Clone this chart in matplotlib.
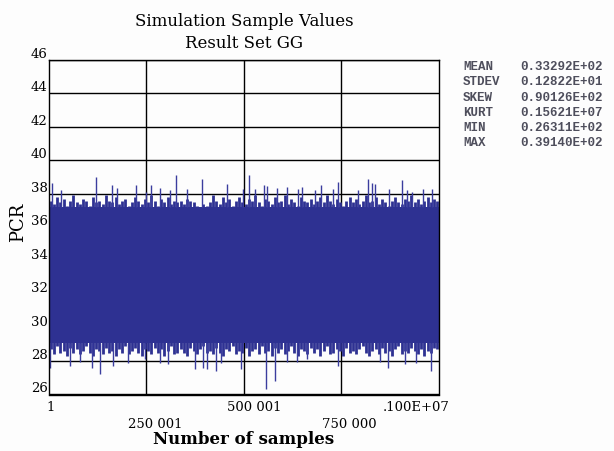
import numpy as np
import matplotlib
matplotlib.use("Agg")
import matplotlib.pyplot as plt
from matplotlib.transforms import ScaledTranslation

BAND = "#2e3192"
SPIKE = "#3b3d9e"
STAT = "#4e4e5c"
SERIF = "DejaVu Serif"

# band core (solid) limits, PCR
CORE_TOP = 37.2
CORE_BOT = 29.1

# tooth tops / bottoms read column by column across the run (120 columns)
hi_vals = [
    37.6, 37.4, 37.8, 37.5, 37.7, 37.3, 37.6, 37.9, 37.5, 37.4,
    37.7, 37.6, 37.3, 37.8, 37.5, 37.6, 37.4, 37.9, 37.6, 37.5,
    37.8, 37.4, 37.6, 37.7, 37.3, 37.5, 37.8, 37.6, 37.4, 37.7,
    37.5, 37.9, 37.6, 37.3, 37.7, 37.5, 37.8, 37.4, 37.6, 37.5,
    37.6, 37.4, 37.7, 37.6, 37.5, 37.3, 37.2, 37.4, 37.3, 37.5,
    37.9, 37.6, 37.4, 37.8, 37.5, 37.7, 37.3, 37.6, 37.8, 37.5,
    37.4, 37.7, 37.6, 37.9, 37.5, 37.3, 37.7, 37.6, 37.4, 37.8,
    37.5, 37.6, 37.9, 37.4, 37.7, 37.5, 37.3, 37.8, 37.6, 37.5,
    37.7, 37.4, 37.6, 37.8, 37.5, 37.9, 37.6, 37.4, 37.7, 37.5,
    37.3, 37.6, 37.8, 37.5, 37.7, 37.4, 37.6, 37.9, 37.5, 37.6,
    37.8, 37.4, 37.7, 37.5, 37.3, 37.6, 37.8, 37.5, 37.4, 37.7,
    37.6, 37.9, 37.5, 37.7, 37.4, 37.6, 37.8, 37.5, 37.7, 37.6,
]
lo_vals = [
    28.7, 28.4, 28.9, 28.5, 28.6, 28.3, 28.8, 28.5, 28.7, 28.4,
    28.6, 28.9, 28.5, 28.3, 28.7, 28.6, 28.4, 28.8, 28.5, 28.6,
    28.3, 28.7, 28.5, 28.9, 28.4, 28.6, 28.8, 28.5, 28.3, 28.7,
    28.6, 28.4, 28.8, 28.5, 28.7, 28.3, 28.6, 28.9, 28.4, 28.5,
    28.7, 28.5, 28.3, 28.8, 28.6, 28.4, 28.7, 28.9, 28.5, 28.6,
    28.4, 28.8, 28.5, 28.3, 28.7, 28.6, 28.9, 28.4, 28.6, 28.5,
    28.8, 28.3, 28.6, 28.7, 28.4, 28.9, 28.5, 28.6, 28.3, 28.8,
    28.5, 28.7, 28.4, 28.6, 28.9, 28.5, 28.3, 28.7, 28.6, 28.4,
    28.8, 28.5, 28.7, 28.3, 28.6, 28.9, 28.4, 28.5, 28.7, 28.6,
    28.3, 28.8, 28.5, 28.6, 28.4, 28.7, 28.9, 28.5, 28.3, 28.6,
    28.7, 28.4, 28.8, 28.5, 28.6, 28.3, 28.7, 28.9, 28.4, 28.6,
    28.5, 28.8, 28.6, 28.4, 28.7, 28.3, 28.6, 28.5, 28.8, 28.7,
]

# isolated extreme samples (sample index, PCR)
up_x = [8500, 30800, 119700, 160800, 173600, 223100, 248700, 261500, 284600,
        310200, 325600, 353800, 391500, 455600, 496700, 513600, 528200,
        551300, 558200, 583800, 609500, 638400, 647900, 682000, 697400,
        729000, 740200, 793100, 818700, 827400, 835900, 872500, 904300,
        917100, 930000, 959000, 982000]
up_y = [38.64, 38.24, 39.0, 38.54, 38.34, 38.54, 38.1, 38.5, 38.34,
        38.2, 39.14, 38.3, 38.88, 38.6, 38.3, 39.1, 38.3,
        38.54, 38.44, 38.34, 38.4, 38.3, 38.4, 38.2, 38.54,
        38.3, 38.7, 38.2, 38.9, 38.64, 38.6, 38.3, 38.84,
        38.2, 38.1, 38.3, 38.3]
dn_x = [2600, 53800, 79500, 109500, 130800, 164900, 203300, 246100, 284600,
        304400, 374400, 395600, 405900, 428200, 440200, 492300, 555600,
        579500, 609500, 635100, 660700, 741800, 848700, 870000, 912800,
        940200, 979500]
dn_y = [27.58, 27.73, 27.97, 27.6, 27.23, 27.7, 27.9, 28.1, 27.9,
        27.85, 27.53, 27.6, 27.53, 27.43, 27.9, 27.53, 26.311,
        26.82, 27.97, 27.97, 28.1, 27.7, 27.97, 27.58, 27.85,
        27.9, 27.4]

x_ticks = [1, 250001, 500001, 750000, 1000000]
x_labels = ["1", "250 001", "500 001", "750 000", ".100E+07"]
y_ticks = list(range(26, 47, 2))

stat_names = ["MEAN", "STDEV", "SKEW", "KURT", "MIN", "MAX"]
stat_vals = ["0.33292E+02", "0.12822E+01", "0.90126E+02",
             "0.15621E+07", "0.26311E+02", "0.39140E+02"]

fig = plt.figure(figsize=(6.14, 4.52), dpi=100)
fig.patch.set_facecolor("#fdfdfd")
ax = fig.add_axes([0.0798, 0.125, 0.635, 0.74])
ax.set_facecolor("#fdfdfd")

n = len(hi_vals)
cols = (np.arange(n) + 0.5) / n * 1e6
ax.fill_between([0, 1e6], CORE_BOT, CORE_TOP, color=BAND, lw=0, zorder=2)
ax.vlines(cols, CORE_TOP - 0.05, hi_vals, color=BAND, lw=2.0, zorder=2)
ax.vlines(cols, lo_vals, CORE_BOT + 0.05, color=BAND, lw=2.0, zorder=2)
ax.vlines(up_x, CORE_TOP, up_y, color=SPIKE, lw=1.0, zorder=2)
ax.vlines(dn_x, dn_y, CORE_BOT, color=SPIKE, lw=1.0, zorder=2)

ax.set_xlim(1, 1e6)
ax.set_ylim(26, 46)
for y in y_ticks:
    ax.axhline(y, color="black", lw=1.0, zorder=1)
for x in x_ticks[1:-1]:
    ax.axvline(x, color="black", lw=1.0, zorder=1)
for s in ax.spines.values():
    s.set_linewidth(1.0)

ax.set_yticks(y_ticks)
ax.set_yticklabels([str(v) for v in y_ticks], family=SERIF, fontsize=9.5)
ax.tick_params(axis="y", length=0, pad=1)
for lab in ax.get_yticklabels():
    lab.set_verticalalignment("bottom")

ax.set_xticks(x_ticks[::2])
ax.set_xticklabels(x_labels[::2], family=SERIF, fontsize=9.5)
ax.set_xticks(x_ticks[1::2], minor=True)
ax.set_xticklabels(x_labels[1::2], minor=True, family=SERIF, fontsize=9.5)
ax.tick_params(axis="x", which="major", length=0, pad=4)
ax.tick_params(axis="x", which="minor", length=0, pad=16)
# horizontal nudges (px) for 1, 500 001, .100E+07, 250 001, 750 000
shifts = [2, 10, -23, 9, 8]
labs = ax.get_xticklabels() + ax.get_xticklabels(minor=True)
for lab, dx in zip(labs, shifts):
    lab.set_transform(lab.get_transform() + ScaledTranslation(dx / 100, 0, fig.dpi_scale_trans))

cx = 0.0798 + 0.635 / 2
fig.text(cx, 1 - 21 / 452, "Simulation Sample Values", family=SERIF,
         fontsize=12, ha="center", va="center")
fig.text(cx, 1 - 43 / 452, "Result Set GG", family=SERIF,
         fontsize=12, ha="center", va="center")
fig.text(cx, 1 - 440 / 452, "Number of samples", family=SERIF,
         fontsize=12, fontweight="bold", ha="center", va="center")
fig.text(18 / 614, 1 - 222 / 452, "PCR", family=SERIF, fontsize=13,
         rotation=90, ha="center", va="center")

for i, (nm, v) in enumerate(zip(stat_names, stat_vals)):
    yy = 1 - (67 + 15.3 * i) / 452
    fig.text(463 / 614, yy, nm, family="Liberation Mono", fontsize=9,
             fontweight="bold", color=STAT, va="center")
    fig.text(520 / 614, yy, v, family="Liberation Mono", fontsize=9,
             fontweight="bold", color=STAT, va="center")

fig.savefig("out.png", dpi=100, facecolor=fig.get_facecolor())
